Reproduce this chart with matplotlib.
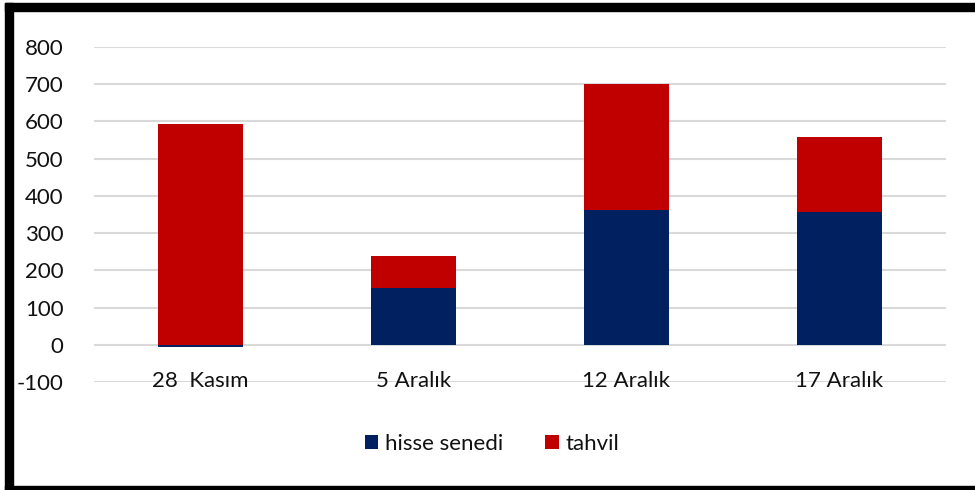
import matplotlib
matplotlib.use("Agg")
import matplotlib.pyplot as plt
from matplotlib.patches import Rectangle
import numpy as np

categories = ["28  Kasım", "5 Aralık", "12 Aralık", "17 Aralık"]
hisse = [-6, 153, 362, 357]
tahvil = [592, 86, 338, 201]
yticks = [-100, 0, 100, 200, 300, 400, 500, 600, 700, 800]

BLUE = "#002060"
RED = "#C00000"

plt.rcParams["font.family"] = ["Lato", "DejaVu Sans"]

fig = plt.figure(figsize=(9.75, 4.9), dpi=100)
ax = fig.add_axes([94/975, 1-382/490, (946-94)/975, (382-47)/490])

x = np.arange(len(categories))
h = np.array(hisse)
t = np.array(tahvil)
bottom_t = np.maximum(h, 0)
ax.bar(x, h, width=0.4, color=BLUE, label="hisse senedi", zorder=3)
ax.bar(x, t, width=0.4, bottom=bottom_t, color=RED, label="tahvil", zorder=3)

ax.set_xlim(-0.5, len(categories) - 0.5)
ax.set_ylim(-100, 800)
ax.set_yticks(yticks)
ax.set_yticklabels([str(v) for v in yticks], fontsize=16, color="#111111")
ax.tick_params(axis="y", length=0, pad=22)
ax.set_xticks([])
ax.grid(axis="y", color="#d9d9d9", linewidth=1.5, zorder=0)
for s in ax.spines.values():
    s.set_visible(False)

for i, c in enumerate(categories):
    ax.annotate(c, xy=(i, 0), xytext=(0, -26), textcoords="offset points",
                ha="center", va="center", fontsize=16, color="#111111", zorder=5)

leg = fig.legend(loc="center", bbox_to_anchor=(492/975, 1-444/490), ncol=2,
                 frameon=False, fontsize=16, handlelength=0.6, handleheight=0.6,
                 handletextpad=0.3, columnspacing=1.9)
for txt in leg.get_texts():
    txt.set_color("#111111")

# black frame (right side cut off in reference)
fig.patches.append(Rectangle((5/975, 1-11/490), 1.0, 8/490, transform=fig.transFigure,
                             color="black", zorder=10))
fig.patches.append(Rectangle((5/975, 0), 8/975, 1-3/490, transform=fig.transFigure,
                             color="black", zorder=10))
fig.patches.append(Rectangle((5/975, 0), 1.0, 4/490, transform=fig.transFigure,
                             color="black", zorder=10))

fig.savefig("out.png", dpi=100)
